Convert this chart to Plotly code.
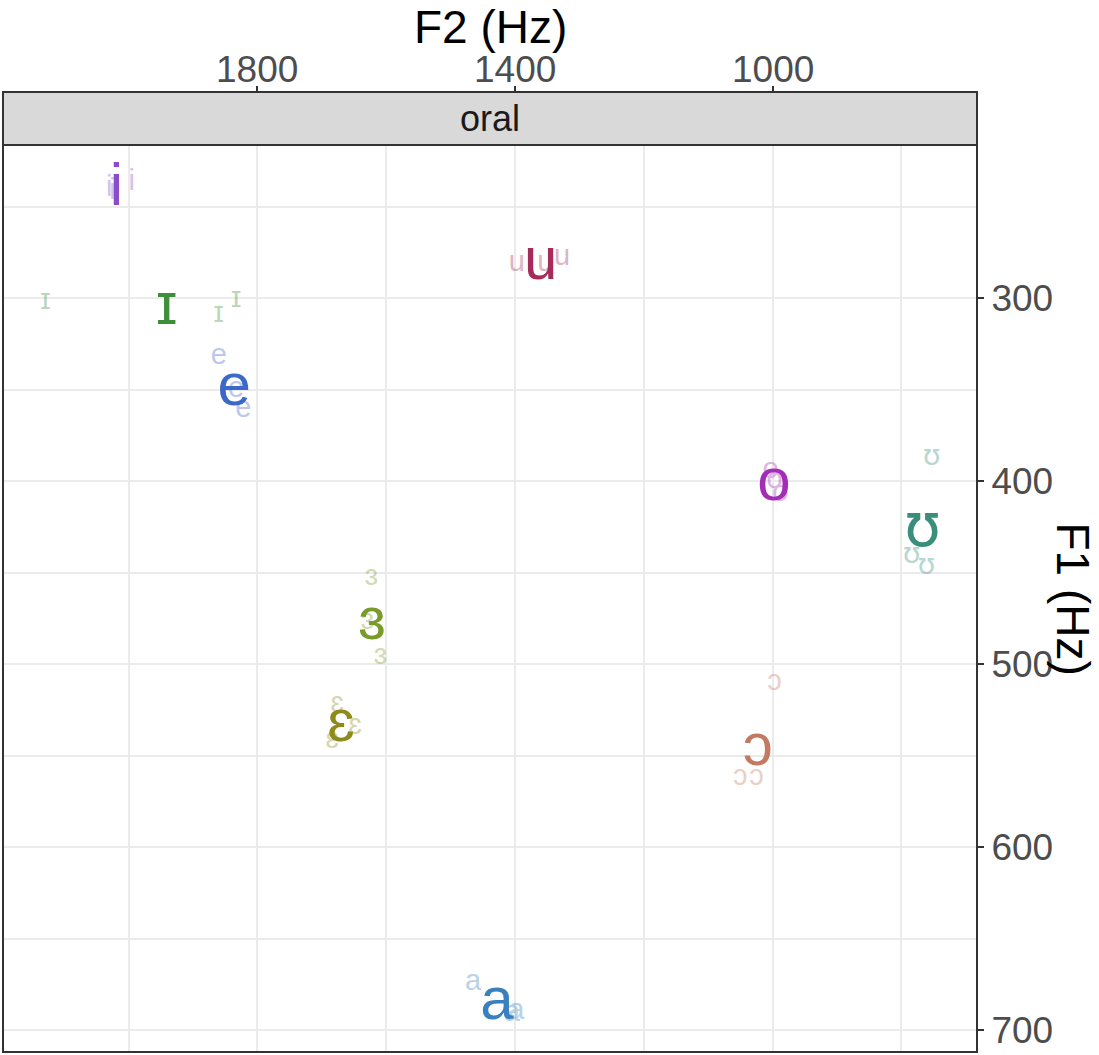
import plotly.graph_objects as go

# ---- data ----
vowels = ["i", "ɪ", "e", "u", "o", "ʊ", "ɜ", "ɛ", "ɔ", "a"]
vowel_colors = ["#8A4DC9", "#3E8E3A", "#3C68C8", "#A62A5A", "#A32DB4",
                "#3A8F7C", "#7A9A2A", "#8E8A1C", "#C47A60", "#3880BE"]
mean_f2 = [2019, 1941, 1836, 1360, 998, 767, 1622, 1670, 1023, 1428]
mean_f1 = [241, 306, 350, 281, 402, 427, 478, 534, 547, 686]

tok_vowel = ["i", "i", "i",
             "ɪ", "ɪ", "ɪ",
             "e", "e", "e",
             "u", "u", "u",
             "o", "o", "o",
             "ʊ", "ʊ", "ʊ",
             "ɜ", "ɜ", "ɜ",
             "ɛ", "ɛ", "ɛ",
             "ɔ", "ɔ", "ɔ",
             "a", "a", "a"]
tok_f2 = [2025, 2030, 1995,
          2129, 1860, 1833,
          1860, 1833, 1822,
          1397, 1353, 1327,
          1003, 997, 988,
          753, 784, 761,
          1623, 1629, 1609,
          1676, 1648, 1684,
          997, 1050, 1025,
          1465, 1398, 1405]
tok_f1 = [242, 240, 237,
          302, 309, 301,
          332, 350, 361,
          281, 281, 278,
          394, 400, 407,
          387, 441, 447,
          453, 477, 496,
          522, 534, 542,
          510, 562, 562,
          674, 690, 691]

x_ticks = [1800, 1400, 1000]
x_tick_labels = ["1800", "1400", "1000"]
x_minor = [2000, 1600, 1200, 800]
y_ticks = [300, 400, 500, 600, 700]
y_minor = [250, 350, 450, 550, 650]
x_range = [2195, 682.5]
y_range = [712, 216.2]
facet_label = "oral"

FONT = "Liberation Sans, Arial, DejaVu Sans, sans-serif"
IPA_FONT = {"ʊ": "DejaVu Sans, Liberation Sans, sans-serif"}
color_of = dict(zip(vowels, vowel_colors))

fig = go.Figure()

# token labels (faint)
for v in vowels:
    xs = [f for f, t in zip(tok_f2, tok_vowel) if t == v]
    ys = [f for f, t in zip(tok_f1, tok_vowel) if t == v]
    fig.add_trace(go.Scatter(
        x=xs, y=ys, mode="text", text=[v] * len(xs),
        textposition="middle center",
        textfont=dict(family=IPA_FONT.get(v, FONT), size=29,
                      color=color_of[v]),
        opacity=0.35, showlegend=False, hoverinfo="skip"))

# mean labels
for v, f2, f1 in zip(vowels, mean_f2, mean_f1):
    fig.add_trace(go.Scatter(
        x=[f2], y=[f1], mode="text", text=[v],
        textposition="middle center",
        textfont=dict(family=IPA_FONT.get(v, FONT), size=60,
                      color=color_of[v]),
        showlegend=False, hoverinfo="skip"))

W, H = 1099, 1055
ml, mr, mt, mb = 3, 122, 92, 3
paper_h = H - mt - mb
panel_top = (1052 - 145) / paper_h

annotations = [
    dict(text=facet_label, xref="paper", yref="paper", x=0.5,
         y=(1 + panel_top) / 2, showarrow=False,
         xanchor="center", yanchor="middle",
         font=dict(family=FONT, size=36, color="#1A1A1A")),
    dict(text="F2 (Hz)", xref="paper", yref="paper", x=0.5,
         y=(1052 - 27) / paper_h, showarrow=False,
         xanchor="center", yanchor="middle",
         font=dict(family=FONT, size=46, color="black")),
    dict(text="F1 (Hz)", xref="paper", yref="paper",
         x=(1073 - ml) / (W - ml - mr), y=(1052 - 598.5) / paper_h,
         showarrow=False, textangle=90,
         xanchor="center", yanchor="middle",
         font=dict(family=FONT, size=46, color="black")),
]
# top-axis tick labels, placed on the x data scale
for tv, tl in zip(x_ticks, x_tick_labels):
    annotations.append(dict(
        text=tl, xref="x", yref="paper", x=tv, y=(1052 - 69) / paper_h,
        showarrow=False, xanchor="center", yanchor="middle",
        font=dict(family=FONT, size=37, color="#4D4D4D")))

fig.update_layout(
    width=W, height=H,
    margin=dict(l=ml, r=mr, t=mt, b=mb, pad=0),
    paper_bgcolor="white", plot_bgcolor="white",
    xaxis=dict(
        range=x_range, side="top", anchor="free", position=1,
        tickvals=x_ticks, ticks="outside", ticklen=6, tickwidth=2,
        tickcolor="#333333", showticklabels=False,
        showgrid=True, gridcolor="#EBEBEB", gridwidth=2,
        minor=dict(tickvals=x_minor, showgrid=True, gridcolor="#EBEBEB",
                   gridwidth=1.5, ticks=""),
        zeroline=False, showline=False,
    ),
    yaxis=dict(
        range=y_range, side="right", domain=[0, panel_top],
        tickvals=y_ticks, ticks="outside", ticklen=6, tickwidth=2,
        tickcolor="#333333",
        tickfont=dict(family=FONT, size=37, color="#4D4D4D"),
        showgrid=True, gridcolor="#EBEBEB", gridwidth=2,
        minor=dict(tickvals=y_minor, showgrid=True, gridcolor="#EBEBEB",
                   gridwidth=1.5, ticks=""),
        zeroline=False, showline=False,
    ),
    shapes=[
        dict(type="rect", xref="paper", yref="paper", x0=0, x1=1,
             y0=panel_top, y1=1, fillcolor="#D9D9D9",
             line=dict(color="#333333", width=2), layer="above"),
        dict(type="rect", xref="paper", yref="paper", x0=0, x1=1,
             y0=0, y1=panel_top, fillcolor="rgba(0,0,0,0)",
             line=dict(color="#333333", width=2), layer="above"),
    ],
    annotations=annotations,
)

fig.write_html("out.html")
